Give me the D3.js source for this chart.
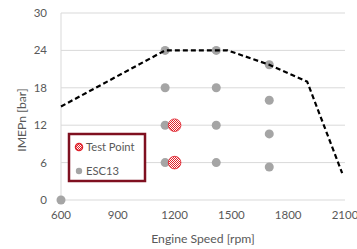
<!DOCTYPE html>
<html>
<head>
<meta charset="utf-8">
<script src="https://cdn.jsdelivr.net/npm/d3@7"></script>
<style>
  body { margin: 0; background: #fff; }
  svg { display: block; font-family: Lato, "Open Sans", sans-serif; }
</style>
</head>
<body>
<svg id="chart" width="357" height="249"></svg>
<script>
// Full load line (dashed)
const limitSpeed = [600, 1150, 1480, 1700, 1900, 2085];
const limitImep = [15, 24, 24, 21.7, 19, 4.3];

// ESC13 points
const escSpeed = [600, 1150, 1150, 1150, 1150, 1420, 1420, 1420, 1420, 1700, 1700, 1700, 1700];
const escImep = [0, 24, 18, 12, 6, 24, 18, 12, 6, 21.7, 16, 10.6, 5.3];

// Test points
const testSpeed = [1200, 1200];
const testImep = [12, 6];

const xTicks = [600, 900, 1200, 1500, 1800, 2100];
const yTicks = [0, 6, 12, 18, 24, 30];

let svg = d3.select('#chart');
let plotLeft = 61, plotRight = 345, plotTop = 13, plotBottom = 200;

let x = d3.scaleLinear().domain([600, 2100]).range([plotLeft, plotRight]);
let y = d3.scaleLinear().domain([0, 30]).range([plotBottom, plotTop]);

// checkered pattern for test points
let defs = svg.append('defs');
let pat = defs.append('pattern')
    .attr('id', 'checker')
    .attr('width', 2).attr('height', 2)
    .attr('patternUnits', 'userSpaceOnUse');
pat.append('rect').attr('width', 2).attr('height', 2).attr('fill', '#fff');
pat.append('rect').attr('width', 1).attr('height', 1).attr('fill', '#e0202a');
pat.append('rect').attr('x', 1).attr('y', 1).attr('width', 1).attr('height', 1).attr('fill', '#e0202a');

// gridlines
svg.append('g')
    .selectAll('line')
    .data(yTicks)
    .enter()
    .append('line')
    .attr('x1', plotLeft).attr('x2', plotRight)
    .attr('y1', d => y(d)).attr('y2', d => y(d))
    .attr('stroke', '#d9d9d9')
    .attr('stroke-width', 1);

// left axis line
svg.append('line')
    .attr('x1', plotLeft).attr('x2', plotLeft)
    .attr('y1', plotTop).attr('y2', plotBottom)
    .attr('stroke', '#d9d9d9');

// y tick labels
svg.append('g')
    .selectAll('text')
    .data(yTicks)
    .enter()
    .append('text')
    .attr('x', plotLeft - 14)
    .attr('y', d => y(d) + 4)
    .attr('text-anchor', 'end')
    .attr('font-size', 11.5)
    .attr('fill', '#595959')
    .text(d => d);

// x tick labels
svg.append('g')
    .selectAll('text')
    .data(xTicks)
    .enter()
    .append('text')
    .attr('x', d => x(d))
    .attr('y', plotBottom + 19)
    .attr('text-anchor', 'middle')
    .attr('font-size', 11.5)
    .attr('fill', '#595959')
    .text(d => d);

// axis titles
svg.append('text')
    .attr('x', 203)
    .attr('y', 243)
    .attr('text-anchor', 'middle')
    .attr('font-size', 12.2)
    .attr('fill', '#595959')
    .text('Engine Speed [rpm]');

svg.append('text')
    .attr('transform', 'translate(26,120) rotate(-90)')
    .attr('text-anchor', 'middle')
    .attr('font-size', 12.2)
    .attr('fill', '#595959')
    .text('IMEPn [bar]');

// ESC13 points
svg.append('g')
    .selectAll('circle')
    .data(escSpeed)
    .enter()
    .append('circle')
    .attr('cx', d => x(d))
    .attr('cy', (d, i) => y(escImep[i]))
    .attr('r', 4.5)
    .attr('fill', '#a5a5a5');

// dashed full load line
let line = d3.line()
    .x(d => x(d[0]))
    .y(d => y(d[1]));
svg.append('path')
    .datum(limitSpeed.map((s, i) => [s, limitImep[i]]))
    .attr('d', line)
    .attr('fill', 'none')
    .attr('stroke', '#000')
    .attr('stroke-width', 2.2)
    .attr('stroke-dasharray', '5,3');

// test points
svg.append('g')
    .selectAll('circle')
    .data(testSpeed)
    .enter()
    .append('circle')
    .attr('cx', d => x(d))
    .attr('cy', (d, i) => y(testImep[i]))
    .attr('r', 6.3)
    .attr('fill', 'url(#checker)')
    .attr('stroke', '#e0202a')
    .attr('stroke-width', 0.8);

// legend
let lg = svg.append('g');
lg.append('rect')
    .attr('x', 69).attr('y', 134)
    .attr('width', 76).attr('height', 47)
    .attr('fill', '#fff')
    .attr('stroke', '#7f1020')
    .attr('stroke-width', 2.5);
lg.append('circle')
    .attr('cx', 79).attr('cy', 147)
    .attr('r', 3.5)
    .attr('fill', 'url(#checker)')
    .attr('stroke', '#e0202a')
    .attr('stroke-width', 1.5);
lg.append('text')
    .attr('x', 86).attr('y', 151)
    .attr('font-size', 11.2)
    .attr('fill', '#595959')
    .text('Test Point');
lg.append('circle')
    .attr('cx', 79).attr('cy', 171)
    .attr('r', 3.2)
    .attr('fill', '#a5a5a5');
lg.append('text')
    .attr('x', 86).attr('y', 175)
    .attr('font-size', 11.2)
    .attr('fill', '#595959')
    .text('ESC13');
</script>
</body>
</html>
